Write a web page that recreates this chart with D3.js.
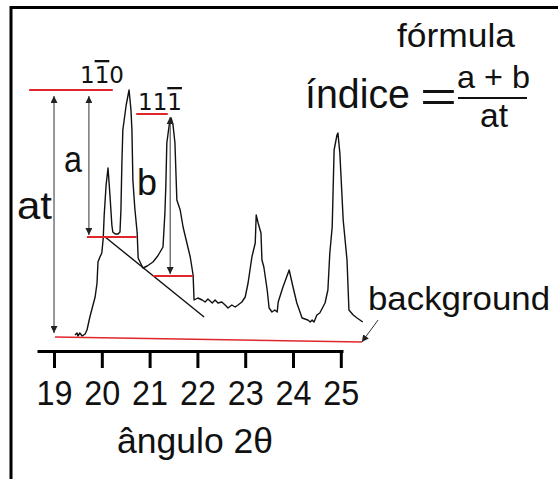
<!DOCTYPE html>
<html>
<head>
<meta charset="utf-8">
<script src="https://cdn.jsdelivr.net/npm/d3@7"></script>
<style>
  body { margin: 0; background: #fff; }
  text { font-family: "Liberation Sans", Arial, sans-serif; fill: #111; }
  .hkl { font-family: "DejaVu Sans", sans-serif; }
</style>
</head>
<body>
<div id="chart"></div>
<script>
// diffractogram, 2theta vs intensity (arbitrary units)
const theta = [19.44, 19.48, 19.50, 19.54, 19.59, 19.65, 19.69, 19.75, 19.86, 19.90, 19.92, 19.96, 20.00, 20.03, 20.05, 20.09, 20.13, 20.17, 20.21, 20.23, 20.28, 20.34, 20.38, 20.40, 20.42, 20.44, 20.51, 20.57, 20.61, 20.63, 20.65, 20.69, 20.74, 20.76, 20.80, 20.86, 20.95, 21.07, 21.17, 21.28, 21.32, 21.34, 21.36, 21.41, 21.45, 21.49, 21.53, 21.57, 21.64, 21.70, 21.78, 21.85, 21.91, 21.93, 22.01, 22.10, 22.16, 22.22, 22.31, 22.37, 22.43, 22.51, 22.58, 22.64, 22.72, 22.79, 22.85, 22.93, 23.00, 23.06, 23.14, 23.21, 23.23, 23.27, 23.33, 23.35, 23.39, 23.46, 23.50, 23.56, 23.62, 23.67, 23.69, 23.79, 23.92, 24.00, 24.08, 24.19, 24.31, 24.36, 24.40, 24.44, 24.50, 24.56, 24.67, 24.73, 24.77, 24.82, 24.86, 24.92, 24.94, 24.98, 25.05, 25.13, 25.17, 25.26, 25.34, 25.46]
const intensity = [1, 3, 0, 3, 0, 2, 6, 19, 39, 53, 74, 79, 83, 98, 121, 151, 168, 141, 111, 104, 102, 102, 104, 126, 173, 206, 231, 246, 226, 206, 156, 128, 103, 78, 74, 68, 70, 74, 80, 89, 123, 151, 193, 211, 218, 211, 193, 136, 126, 109, 93, 79, 61, 36, 38, 36, 34, 37, 33, 36, 33, 34, 31, 28, 31, 29, 31, 34, 39, 53, 79, 93, 121, 113, 103, 76, 69, 46, 28, 24, 26, 24, 34, 49, 66, 49, 33, 18, 16, 14, 16, 14, 21, 23, 33, 46, 83, 109, 186, 201, 203, 183, 116, 76, 26, 21, 18, 14]

const tickValues = [19, 20, 21, 22, 23, 24, 25]

// red reference levels [x1, x2, y1, y2]
const redLines = [
  [18.48, 20.23, 246, 246],
  [19.69, 20.73, 99, 99],
  [20.72, 21.38, 222, 222],
  [21.07, 21.91, 60, 60],
  [19.02, 25.44, -1, -6]
]
// arrows [x, yFrom, yTo] (double headed)
const arrows = [
  [19.00, 3, 240],
  [19.73, 101, 240],
  [21.43, 62, 219]
]
const tangent = [[20.07, 99], [22.14, 19]]
const bgPointer = [[25.78, 16], [25.44, -6]]

const width = 558, height = 479

const svg = d3.select('#chart')
  .append('svg')
  .attr('width', width)
  .attr('height', height)

const x = d3.scaleLinear().domain([18.644, 25.046]).range([37, 343])
const y = d3.scaleLinear().domain([0, 250]).range([336, 86])

const defs = svg.append('defs')
defs.append('marker')
  .attr('id', 'head')
  .attr('viewBox', '0 0 10 10')
  .attr('refX', 10).attr('refY', 5)
  .attr('markerWidth', 7).attr('markerHeight', 7)
  .attr('markerUnits', 'userSpaceOnUse')
  .attr('orient', 'auto-start-reverse')
  .append('path')
  .attr('d', 'M0,0L10,5L0,10Z')
  .attr('fill', '#222')

// frame
svg.append('path')
  .attr('d', `M11,${height}V7.5H${width}`)
  .attr('fill', 'none')
  .attr('stroke', '#000')
  .attr('stroke-width', 3)

// curve
const line = d3.line()
  .x((d, i) => x(theta[i]))
  .y(d => y(d))

svg.append('path')
  .datum(intensity)
  .attr('d', line)
  .attr('fill', 'none')
  .attr('stroke', '#111')
  .attr('stroke-width', 1.4)
  .attr('stroke-linejoin', 'round')

// tangent
svg.append('line')
  .attr('x1', x(tangent[0][0])).attr('y1', y(tangent[0][1]))
  .attr('x2', x(tangent[1][0])).attr('y2', y(tangent[1][1]))
  .attr('stroke', '#111')
  .attr('stroke-width', 1.4)

svg.selectAll('line.red')
  .data(redLines)
  .join('line')
  .attr('class', 'red')
  .attr('x1', d => x(d[0])).attr('x2', d => x(d[1]))
  .attr('y1', d => y(d[2])).attr('y2', d => y(d[3]))
  .attr('stroke', '#e0262b')
  .attr('stroke-width', (d, i) => i == 4 ? 1.5 : 2)

svg.selectAll('line.arrow')
  .data(arrows)
  .join('line')
  .attr('class', 'arrow')
  .attr('x1', d => x(d[0])).attr('x2', d => x(d[0]))
  .attr('y1', d => y(d[1])).attr('y2', d => y(d[2]))
  .attr('stroke', '#333')
  .attr('stroke-width', 1)
  .attr('marker-start', 'url(#head)')
  .attr('marker-end', 'url(#head)')

svg.append('line')
  .attr('x1', x(bgPointer[0][0])).attr('y1', y(bgPointer[0][1]))
  .attr('x2', x(bgPointer[1][0])).attr('y2', y(bgPointer[1][1]))
  .attr('stroke', '#333')
  .attr('stroke-width', 1)
  .attr('marker-end', 'url(#head)')

// axis
const axis = svg.append('g')
  .attr('transform', 'translate(0,351)')
  .call(d3.axisBottom(x).tickValues(tickValues).tickFormat(d3.format('d'))
    .tickSizeInner(17).tickSizeOuter(0).tickPadding(13))
axis.select('.domain').attr('stroke-width', 3)
axis.selectAll('.tick line').attr('stroke-width', 3)
axis.selectAll('.tick text')
  .attr('font-family', '"Liberation Sans", Arial, sans-serif')
  .attr('font-size', 35)
  .attr('dy', '0.68em')
  .attr('textLength', 36)
  .attr('lengthAdjust', 'spacingAndGlyphs')
  .attr('fill', '#111')

svg.append('text')
  .attr('x', 117).attr('y', 453)
  .attr('font-size', 35)
  .attr('textLength', 156)
  .attr('lengthAdjust', 'spacingAndGlyphs')
  .text('ângulo 2θ')

// labels
const label = (txt, px, py, size, len) => {
  const t = svg.append('text')
    .attr('x', px).attr('y', py)
    .attr('font-size', size)
    .text(txt)
  if (len) t.attr('textLength', len).attr('lengthAdjust', 'spacingAndGlyphs')
  return t
}
label('at', 17, 219, 39, 35)
label('a', 64, 172, 36, 18)
label('b', 137, 195, 36, 20)
label('background', 368, 310, 34, 182)

// formula
label('fórmula', 397, 47, 34, 118)
label('índice', 305, 108, 40, 105)
label('=', 420, 111, 42, 37).attr('font-weight', 300)
label('a + b', 457, 88, 32, 73)
label('at', 480, 127, 34, 28)
svg.append('line')
  .attr('x1', 458).attr('x2', 527)
  .attr('y1', 98).attr('y2', 98)
  .attr('stroke', '#111').attr('stroke-width', 2)

// miller indices with overlines
const hkl = (parts, px, py) => {
  const t = svg.append('text').attr('class', 'hkl')
    .attr('x', px).attr('y', py)
    .attr('font-size', 23)
  parts.forEach(p => {
    t.append('tspan')
      .style('text-decoration', p.bar ? 'overline' : 'none')
      .text(p.d)
  })
}
hkl([{ d: '1' }, { d: '1', bar: true }, { d: '0' }], 80, 83)
hkl([{ d: '1' }, { d: '1' }, { d: '1', bar: true }], 138, 110)
</script>
</body>
</html>
